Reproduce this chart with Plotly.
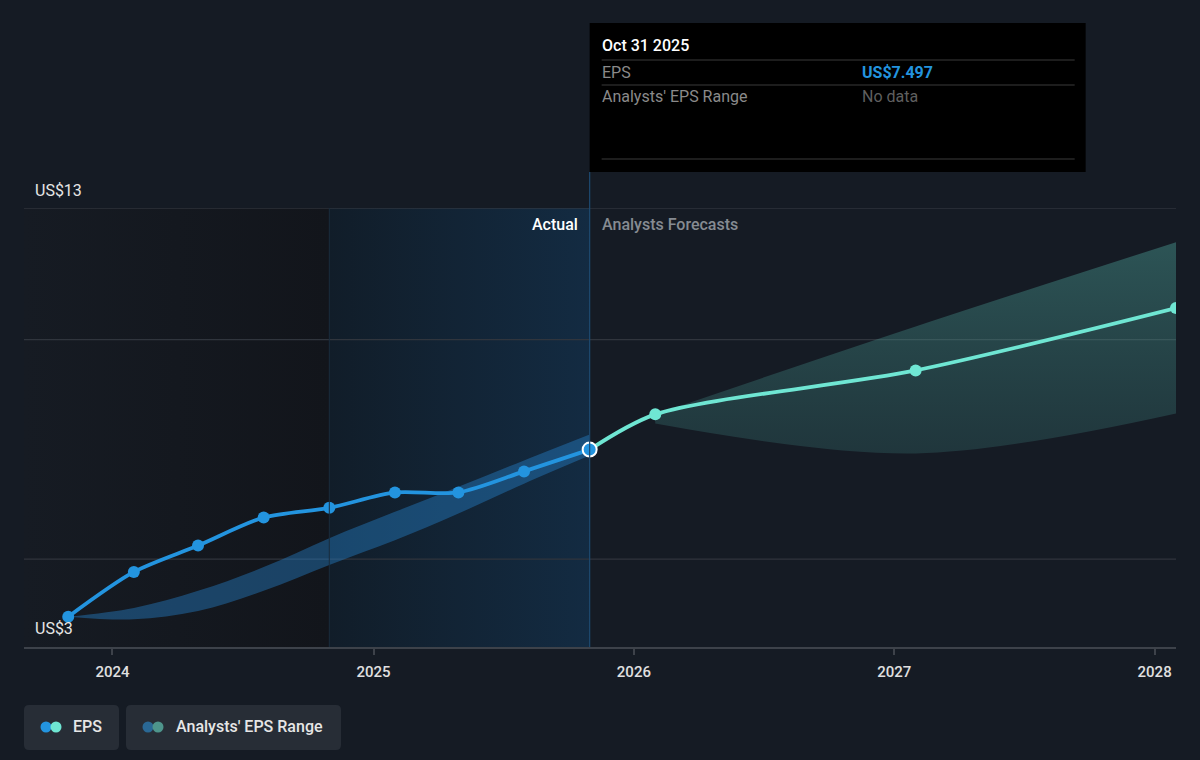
import plotly.graph_objects as go

# ---------------- data ----------------
eps_dates = ["2023-10-31", "2024-01-31", "2024-04-30", "2024-07-31", "2024-10-31",
             "2025-01-31", "2025-04-30", "2025-07-31", "2025-10-31"]
eps_values = [3.69, 4.71, 5.31, 5.95, 6.17, 6.52, 6.52, 7.00, 7.497]
past_range_low = [3.69, 3.63, 3.82, 4.28, 4.87, 5.43, 6.04, 6.72, 7.36]
past_range_high = [3.69, 3.89, 4.28, 4.82, 5.48, 6.08, 6.65, 7.25, 7.84]

fc_dates = ["2025-10-31", "2026-01-31", "2027-01-31", "2028-01-31"]
fc_values = [7.497, 8.30, 9.30, 10.72]
fc_range_dates = ["2026-01-31", "2027-01-31", "2028-01-31"]
fc_range_low = [8.09, 7.41, 8.32]
fc_range_high = [8.30, 10.30, 12.22]

x_start, x_end = "2023-08-30", "2028-01-31"
y_min, y_max = 3, 13
grid_vals = [5, 10, 13]
year_ticks = ["2024-01-01", "2025-01-01", "2026-01-01", "2027-01-01", "2028-01-01"]
year_labels = ["2024", "2025", "2026", "2027", "2028"]
actual_start = "2024-10-31"
today = "2025-10-31"

# ---------------- styling ----------------
BG = "#151b24"
BLUE = "#2394df"
TEAL = "#6fe6d3"
FONT = "Roboto"
GRID = "#30353d"

W, H = 1200, 760
L, R, T, B = 24, 24, 208, 113
PW, PH = W - L - R, H - T - B


def px_x(p):
    return (p - L) / PW


def px_y(p):
    return (H - B - p) / PH


fig = go.Figure()

# background regions (gradient fills)
fig.add_trace(go.Scatter(
    x=[x_start, actual_start, actual_start, x_start, x_start],
    y=[y_min, y_min, y_max, y_max, y_min],
    mode="lines", line=dict(width=0), fill="toself",
    fillgradient=dict(type="horizontal", colorscale=[[0, "#161b23"], [1, "#12151b"]]),
    hoverinfo="skip", showlegend=False))
fig.add_trace(go.Scatter(
    x=[actual_start, today, today, actual_start, actual_start],
    y=[y_min, y_min, y_max, y_max, y_min],
    mode="lines", line=dict(width=0), fill="toself",
    fillgradient=dict(type="horizontal", colorscale=[[0, "#111d29"], [1, "#132b42"]]),
    hoverinfo="skip", showlegend=False))

# horizontal grid lines (drawn above background regions)
for g in grid_vals:
    fig.add_trace(go.Scatter(x=[x_start, x_end], y=[g, g], mode="lines",
                             line=dict(color="#3a3f47" if g == y_max else GRID, width=1.2),
                             hoverinfo="skip", showlegend=False))

# past analysts' range band
fig.add_trace(go.Scatter(x=eps_dates, y=past_range_low, mode="lines",
                         line=dict(width=0, shape="spline", smoothing=1.0),
                         hoverinfo="skip", showlegend=False))
fig.add_trace(go.Scatter(x=eps_dates, y=past_range_high, mode="lines",
                         line=dict(width=0, shape="spline", smoothing=1.0),
                         fill="tonexty", fillcolor="rgba(38,130,205,0.42)",
                         hoverinfo="skip", showlegend=False))

# forecast range band
fig.add_trace(go.Scatter(x=fc_range_dates, y=fc_range_low, mode="lines",
                         line=dict(width=0, shape="spline", smoothing=1.0),
                         hoverinfo="skip", showlegend=False))
fig.add_trace(go.Scatter(x=fc_range_dates, y=fc_range_high, mode="lines",
                         line=dict(width=0, shape="spline", smoothing=1.0),
                         fill="tonexty",
                         fillgradient=dict(type="vertical",
                                           colorscale=[[0, "rgba(70,150,145,0.22)"],
                                                       [1, "rgba(80,170,160,0.40)"]]),
                         hoverinfo="skip", showlegend=False))

# EPS lines
fig.add_trace(go.Scatter(x=fc_dates, y=fc_values, mode="lines+markers",
                         line=dict(color=TEAL, width=3.8, shape="spline", smoothing=0.8),
                         marker=dict(size=12, color=TEAL),
                         hoverinfo="skip", showlegend=False))
fig.add_trace(go.Scatter(x=eps_dates, y=eps_values, mode="lines+markers",
                         line=dict(color=BLUE, width=3.8, shape="spline", smoothing=0.8),
                         marker=dict(size=12, color=BLUE),
                         hoverinfo="skip", showlegend=False))
fig.add_trace(go.Scatter(x=[eps_dates[-1]], y=[eps_values[-1]], mode="markers",
                         marker=dict(size=14, color=BLUE, line=dict(color="white", width=2)),
                         hoverinfo="skip", showlegend=False))

shapes = []
annotations = []

# vertical "today" line
shapes.append(dict(type="line", xref="x", yref="paper", x0=today, x1=today,
                   y0=0, y1=px_y(172), line=dict(color="#1d4a70", width=1.2), layer="above"))
shapes.append(dict(type="line", xref="x", yref="paper", x0=actual_start, x1=actual_start,
                   y0=0, y1=1, line=dict(color="#1a2c3c", width=1), layer="above"))

# tooltip box
shapes.append(dict(type="rect", xref="x", yref="paper", xsizemode="pixel", xanchor=today,
                   x0=0, x1=496, y0=px_y(172), y1=px_y(23),
                   fillcolor="#000000", line=dict(width=0), layer="above"))
for yy in (60, 85, 159):
    shapes.append(dict(type="line", xref="x", yref="paper", xsizemode="pixel", xanchor=today,
                       x0=12, x1=485, y0=px_y(yy), y1=px_y(yy),
                       line=dict(color="#3a3a3a", width=1.2), layer="above"))

FS = 16
annotations += [
    dict(xref="x", yref="paper", x=today, xshift=10, y=px_y(45), text="Oct 31 2025",
         showarrow=False, xanchor="left", yanchor="middle",
         font=dict(family=FONT, size=FS, color="#ffffff", weight=500)),
    dict(xref="x", yref="paper", x=today, xshift=10, y=px_y(72), text="EPS",
         showarrow=False, xanchor="left", yanchor="middle",
         font=dict(family=FONT, size=FS, color="#8a8a8a")),
    dict(xref="x", yref="paper", x=today, xshift=270, y=px_y(72), text="<b>US$7.497</b>",
         showarrow=False, xanchor="left", yanchor="middle",
         font=dict(family=FONT, size=FS, color=BLUE)),
    dict(xref="x", yref="paper", x=today, xshift=10, y=px_y(97), text="Analysts' EPS Range",
         showarrow=False, xanchor="left", yanchor="middle",
         font=dict(family=FONT, size=FS, color="#8a8a8a")),
    dict(xref="x", yref="paper", x=today, xshift=270, y=px_y(97), text="No data",
         showarrow=False, xanchor="left", yanchor="middle",
         font=dict(family=FONT, size=FS, color="#5f5f5f")),
    dict(xref="x", yref="paper", x=today, xshift=-10, y=px_y(225), text="Actual",
         showarrow=False, xanchor="right", yanchor="middle",
         font=dict(family=FONT, size=FS, color="#ffffff", weight=500)),
    dict(xref="x", yref="paper", x=today, xshift=10, y=px_y(225), text="Analysts Forecasts",
         showarrow=False, xanchor="left", yanchor="middle",
         font=dict(family=FONT, size=FS, color="#868b92", weight=500)),
    dict(xref="paper", yref="paper", x=px_x(33), y=px_y(190), text="US$13",
         showarrow=False, xanchor="left", yanchor="middle",
         font=dict(family=FONT, size=FS, color="#e6e6e6")),
    dict(xref="paper", yref="paper", x=px_x(33), y=px_y(628), text="US$3",
         showarrow=False, xanchor="left", yanchor="middle",
         font=dict(family=FONT, size=FS, color="#e6e6e6")),
]

# legend (custom boxes)
def rounded_rect(x0, y0, x1, y1, r=5):
    X0, X1 = px_x(x0), px_x(x1)
    Y0, Y1 = px_y(y1), px_y(y0)
    rx, ry = r / PW, r / PH
    return (f"M {X0+rx},{Y0} L {X1-rx},{Y0} Q {X1},{Y0} {X1},{Y0+ry} "
            f"L {X1},{Y1-ry} Q {X1},{Y1} {X1-rx},{Y1} L {X0+rx},{Y1} "
            f"Q {X0},{Y1} {X0},{Y1-ry} L {X0},{Y0+ry} Q {X0},{Y0} {X0+rx},{Y0} Z")


for (x0, x1) in ((24, 119), (126, 341)):
    shapes.append(dict(type="path", xref="paper", yref="paper",
                       path=rounded_rect(x0, 705, x1, 750), fillcolor="#272d36",
                       line=dict(width=0), layer="above"))


def dot(cx, cy, r, color):
    return dict(type="circle", xref="paper", yref="paper",
                x0=px_x(cx - r), x1=px_x(cx + r), y0=px_y(cy + r), y1=px_y(cy - r),
                fillcolor=color, line=dict(width=0), layer="above")


shapes += [dot(46, 727, 5.5, BLUE), dot(56, 727, 5.5, TEAL),
           dot(148, 727, 5.5, "#2a6895"), dot(158, 727, 5.5, "#4e958c")]
annotations += [
    dict(xref="paper", yref="paper", x=px_x(71), y=px_y(726), text="EPS", showarrow=False,
         xanchor="left", yanchor="middle", font=dict(family=FONT, size=FS, color="#e6e6e6", weight=500)),
    dict(xref="paper", yref="paper", x=px_x(174), y=px_y(726), text="Analysts' EPS Range",
         showarrow=False, xanchor="left", yanchor="middle",
         font=dict(family=FONT, size=FS, color="#e6e6e6", weight=500)),
]

fig.update_layout(
    width=W, height=H, margin=dict(l=L, r=R, t=T, b=B),
    paper_bgcolor=BG, plot_bgcolor=BG,
    shapes=shapes, annotations=annotations, showlegend=False,
    font=dict(family=FONT),
    xaxis=dict(type="date", range=[x_start, x_end], tickvals=year_ticks, ticktext=year_labels,
               showgrid=False, zeroline=False, showline=True, linecolor="#3d424a", linewidth=1.5,
               ticks="outside", ticklen=6, tickcolor="#3d424a", tickwidth=1.5,
               tickfont=dict(family=FONT, size=15, color="#e0e0e0", weight=500),
               ticklabelstandoff=4, fixedrange=True),
    yaxis=dict(range=[y_min, y_max], showticklabels=False, showgrid=False,
               zeroline=False, showline=False, fixedrange=True),
)

fig.write_html("out.html")
